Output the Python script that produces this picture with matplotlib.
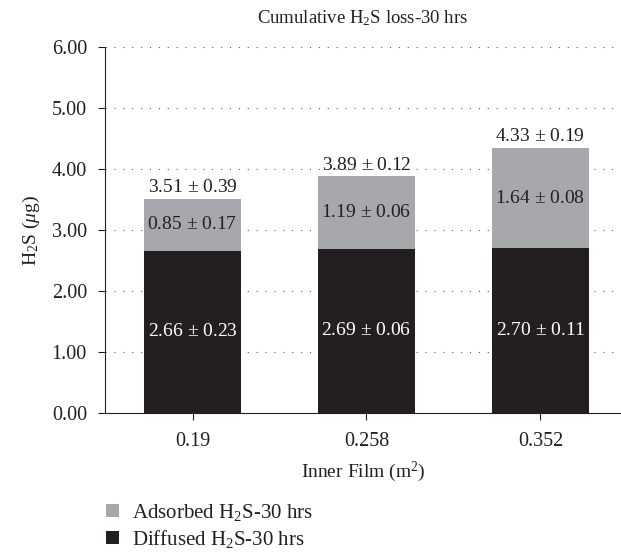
import matplotlib
matplotlib.use("Agg")
import matplotlib.pyplot as plt
from matplotlib.patches import Patch

plt.rcParams['font.family'] = ['Liberation Serif', 'DejaVu Serif']
plt.rcParams['mathtext.fontset'] = 'custom'
plt.rcParams['mathtext.rm'] = 'Liberation Serif'
plt.rcParams['mathtext.it'] = 'Liberation Serif:italic'
plt.rcParams['mathtext.bf'] = 'Liberation Serif:bold'

categories = ["0.19", "0.258", "0.352"]
diffused_mean = [2.66, 2.69, 2.70]
diffused_sd = [0.23, 0.06, 0.11]
adsorbed_mean = [0.85, 1.19, 1.64]
adsorbed_sd = [0.17, 0.06, 0.08]
total_mean = [3.51, 3.89, 4.33]
total_sd = [0.39, 0.12, 0.19]
yticks = [0, 1, 2, 3, 4, 5, 6]

gray = "#a7a8ab"
black = "#231f20"
text_c = "#231f20"

fig = plt.figure(figsize=(6.21, 5.52), dpi=100)
ax = fig.add_axes([105/621, 1-413/552, 1-105/621, (413-47)/552])

x = list(range(len(categories)))
w = 0.557
ax.bar(x, diffused_mean, width=w, color=black, zorder=2)
ax.bar(x, adsorbed_mean, width=w, bottom=diffused_mean, color=gray, zorder=2)

for i in x:
    ax.text(i, diffused_mean[i] / 2, f"{diffused_mean[i]:.2f} $\\pm$ {diffused_sd[i]:.2f}",
            ha='center', va='center', color='white', fontsize=14, zorder=3)
    ax.text(i, diffused_mean[i] + adsorbed_mean[i] / 2,
            f"{adsorbed_mean[i]:.2f} $\\pm$ {adsorbed_sd[i]:.2f}",
            ha='center', va='center', color=text_c, fontsize=14, zorder=3)
    ax.annotate(f"{total_mean[i]:.2f} $\\pm$ {total_sd[i]:.2f}",
                (i, diffused_mean[i] + adsorbed_mean[i]), xytext=(0, 2),
                textcoords='offset points', ha='center', va='bottom',
                color=text_c, fontsize=14, zorder=3)

ax.set_xlim(-0.503, 2.463)
ax.set_ylim(0, 6)
ax.set_yticks(yticks)
ax.set_yticklabels([f"{v:.2f}" for v in yticks], fontsize=14.5)
ax.set_xticks(x)
ax.set_xticklabels(categories, fontsize=14.5)
ax.tick_params(axis='both', direction='out', length=5, width=0.8, colors=black,
               labelcolor=text_c)
ax.tick_params(axis='x', pad=9)
ax.tick_params(axis='y', pad=8)

for yv in yticks[1:]:
    ax.axhline(yv, color='#555555', linewidth=0.8, linestyle=(0, (1, 7)), zorder=1)

for s in ['top', 'right']:
    ax.spines[s].set_visible(False)
for s in ['left', 'bottom']:
    ax.spines[s].set_linewidth(0.8)
    ax.spines[s].set_color(black)

ax.set_title("Cumulative H$_2$S loss-30 hrs", fontsize=13.5, color=text_c, pad=17)
ax.set_ylabel("H$_2$S ($\\mu$g)", fontsize=14, color=text_c, labelpad=7)
ax.set_xlabel("Inner Film (m$^2$)", fontsize=14, color=text_c, labelpad=6)

handles = [Patch(facecolor=gray, label="Adsorbed H$_2$S-30 hrs"),
           Patch(facecolor=black, label="Diffused H$_2$S-30 hrs")]
fig.legend(handles=handles, loc='lower left', bbox_to_anchor=(104/621, 0.0),
           frameon=False, fontsize=15, handlelength=0.6, handleheight=0.6,
           handletextpad=0.65, labelspacing=0.25, borderaxespad=0.0,
           borderpad=0.1, labelcolor=text_c)

fig.savefig("out.png", dpi=100)
